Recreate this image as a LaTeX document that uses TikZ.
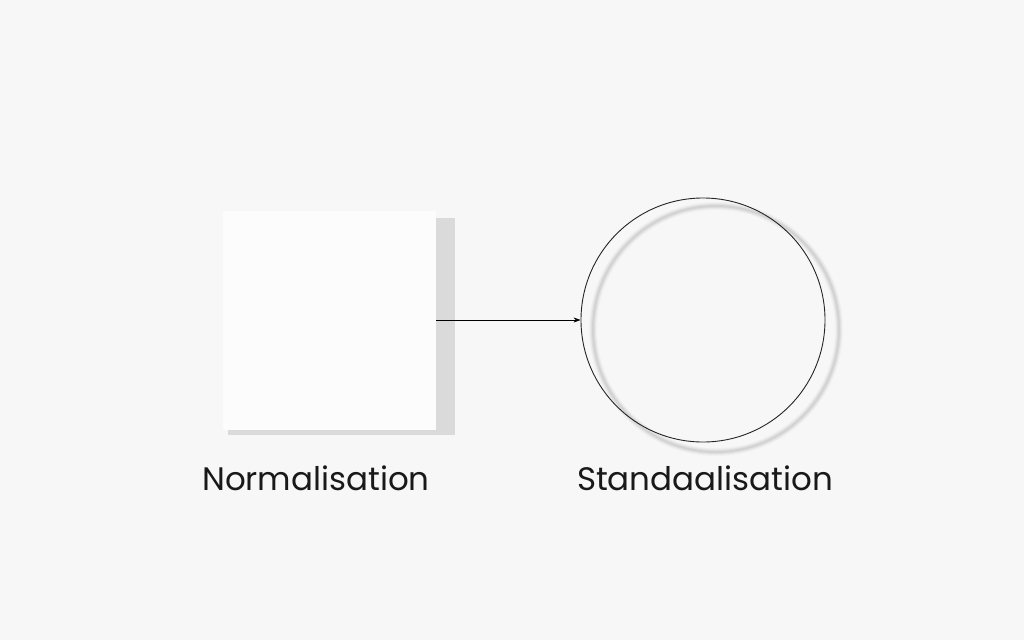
\documentclass[tikz,border=0pt]{standalone}
\usepackage{fontspec}
\setmainfont{Poppins}
\usetikzlibrary{arrows.meta,calc}
\definecolor{bgpaper}{HTML}{F7F7F7}
\definecolor{boxshade}{HTML}{DADADA}
\begin{document}
\begin{tikzpicture}[x=1pt, y=-1pt]
\path [use as bounding box, fill=bgpaper] (0,0) rectangle (1024,640);
\tikzstyle{card} = [draw=none, fill=white!60!bgpaper, minimum width=213pt, minimum height=219pt, inner sep=0pt]
\tikzstyle{ring} = [circle, draw=black!85, line width=0.9pt, minimum size=244pt, inner sep=0pt]
\tikzstyle{caption} = [font=\fontsize{32.5}{38}\selectfont, text=black!90]
\coordinate (N) at (329.5,320);
\coordinate (S) at (703,320);
% shadows
\fill[boxshade] (436,218) rectangle (455,435);
\fill[boxshade] (228,429) rectangle (455,435);
\foreach \w/\o in {8/0.025, 6/0.03, 4/0.04, 2/0.05}
	\draw[black, line width=\w pt, opacity=\o] ($(S)+(13,9)$) circle (123);
\node[card] (norm) at (N) {};
\node[ring] (stand) at (S) {};
\draw[-{Stealth[length=7pt, width=5pt]}, line width=0.7pt] (norm.east) -- (stand.west);
\node[caption] (normtxt) at (316,478) {Normalisation};
\node[caption] (standtxt) at (705,478) {Standaalisation};
\end{tikzpicture}
\end{document}
